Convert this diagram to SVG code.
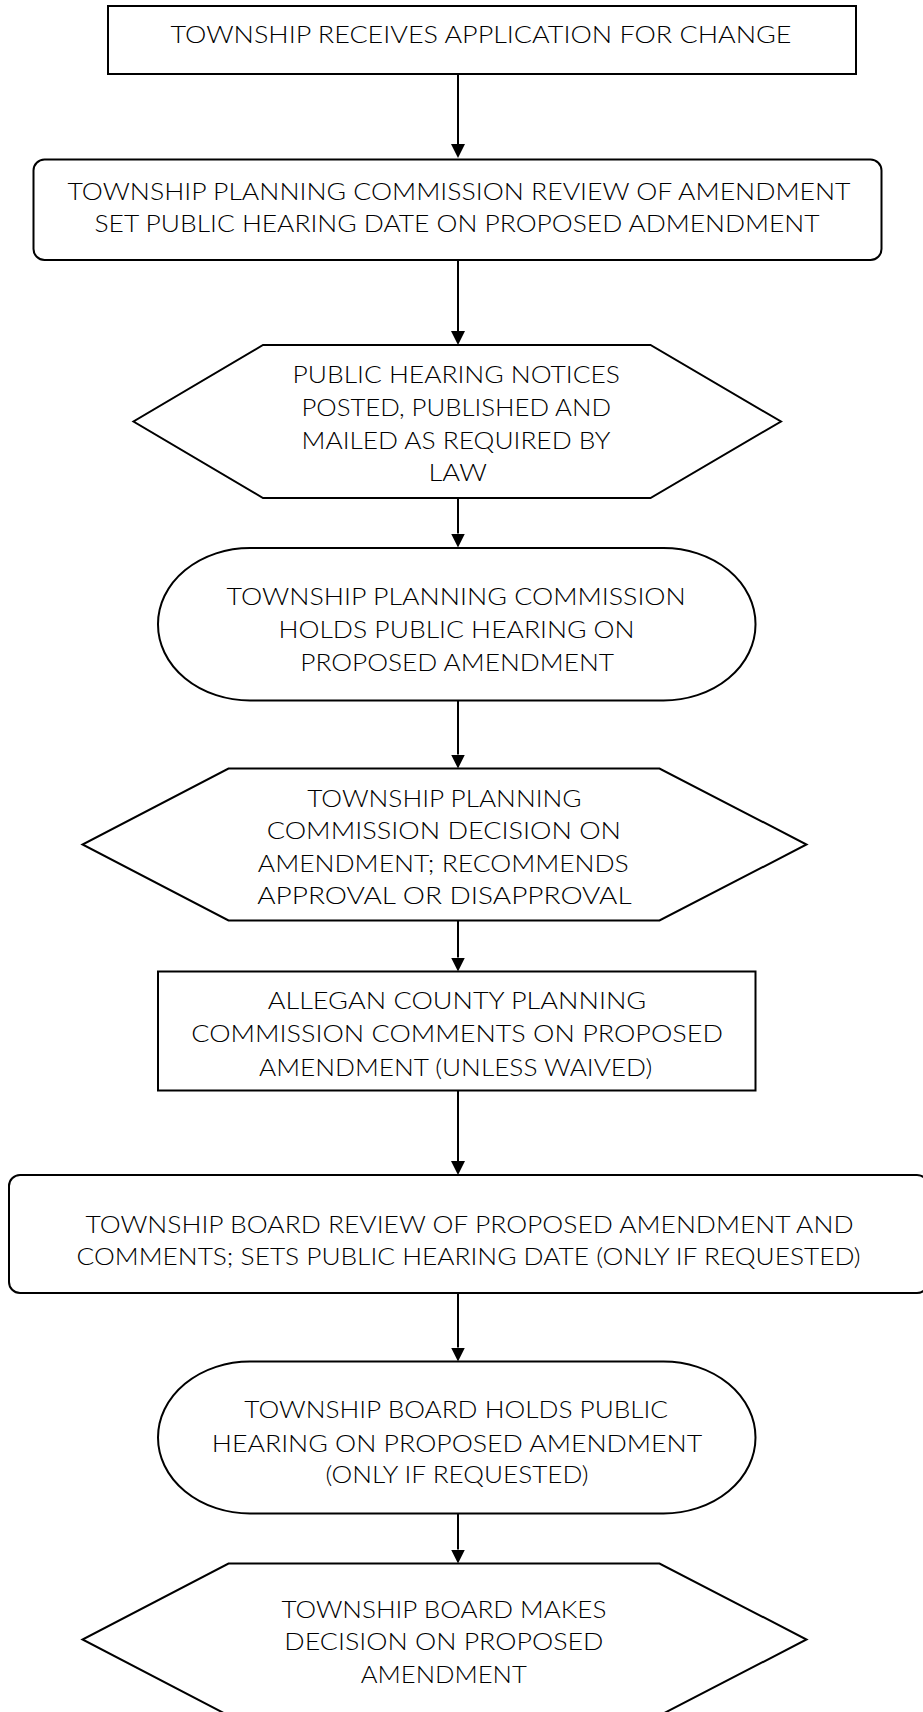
<svg xmlns="http://www.w3.org/2000/svg" width="923" height="1712" viewBox="0 0 923 1712">
  <style>
    .shape { fill: #ffffff; stroke: #000000; stroke-width: 2; }
    .edge { fill: none; stroke: #000000; stroke-width: 2; }
    .label { font-family: "Lato", "Liberation Sans", sans-serif; font-weight: 300; font-size: 24px; fill: #000000; text-anchor: middle; }
  </style>
  <defs>
    <marker id="arrow" markerUnits="userSpaceOnUse" markerWidth="16" markerHeight="16" viewBox="0 -8 16 16" refX="0" refY="0" orient="auto">
      <path d="M0,-7 L14,0 L0,7 Z" fill="#000000"/>
    </marker>
  </defs>
  <rect width="923" height="1712" fill="#ffffff"/>

  <!-- connectors: each line stops 14px short of the target so the arrowhead tip lands on the border -->
  <g id="connectors">
    <line class="edge" x1="458" y1="74" x2="458" y2="144" marker-end="url(#arrow)"/>
    <line class="edge" x1="458" y1="260" x2="458" y2="331" marker-end="url(#arrow)"/>
    <line class="edge" x1="458" y1="498" x2="458" y2="533.5" marker-end="url(#arrow)"/>
    <line class="edge" x1="458" y1="700.5" x2="458" y2="754.5" marker-end="url(#arrow)"/>
    <line class="edge" x1="458" y1="920.5" x2="458" y2="957.5" marker-end="url(#arrow)"/>
    <line class="edge" x1="458" y1="1090.5" x2="458" y2="1161" marker-end="url(#arrow)"/>
    <line class="edge" x1="458" y1="1293" x2="458" y2="1347.5" marker-end="url(#arrow)"/>
    <line class="edge" x1="458" y1="1513.5" x2="458" y2="1549.5" marker-end="url(#arrow)"/>
  </g>

  <g id="receive-application">
    <rect class="shape" x="108" y="6" width="748" height="68"/>
    <text class="label" x="481" y="43.3" textLength="621" lengthAdjust="spacingAndGlyphs">TOWNSHIP RECEIVES APPLICATION FOR CHANGE</text>
  </g>

  <g id="commission-review">
    <rect class="shape" x="33.5" y="159.5" width="848" height="100.5" rx="11" ry="11"/>
    <text class="label" x="459" y="200" textLength="783" lengthAdjust="spacingAndGlyphs">TOWNSHIP PLANNING COMMISSION REVIEW OF AMENDMENT</text>
    <text class="label" x="457" y="231.7" textLength="725" lengthAdjust="spacingAndGlyphs">SET PUBLIC HEARING DATE ON PROPOSED ADMENDMENT</text>
  </g>

  <g id="hearing-notices">
    <polygon class="shape" points="263,345 650.5,345 781,421.5 650.5,498 263,498 133.5,421.5"/>
    <text class="label" x="456.3" y="383.3" textLength="327.4" lengthAdjust="spacingAndGlyphs">PUBLIC HEARING NOTICES</text>
    <text class="label" x="456.2" y="416" textLength="309.6" lengthAdjust="spacingAndGlyphs">POSTED, PUBLISHED AND</text>
    <text class="label" x="456" y="448.7" textLength="309" lengthAdjust="spacingAndGlyphs">MAILED AS REQUIRED BY</text>
    <text class="label" x="457.7" y="481.3" textLength="58.3" lengthAdjust="spacingAndGlyphs">LAW</text>
  </g>

  <g id="commission-hearing">
    <rect class="shape" x="158" y="548" width="597.5" height="152.5" rx="92" ry="76"/>
    <text class="label" x="456.2" y="605" textLength="459.2" lengthAdjust="spacingAndGlyphs">TOWNSHIP PLANNING COMMISSION</text>
    <text class="label" x="456.5" y="638.3" textLength="356.2" lengthAdjust="spacingAndGlyphs">HOLDS PUBLIC HEARING ON</text>
    <text class="label" x="457.1" y="670.7" textLength="313.8" lengthAdjust="spacingAndGlyphs">PROPOSED AMENDMENT</text>
  </g>

  <g id="commission-decision">
    <polygon class="shape" points="228.5,768.5 659.5,768.5 806.5,844.5 659.5,920.5 228.5,920.5 82.5,844.5"/>
    <text class="label" x="444.4" y="806.7" textLength="274.3" lengthAdjust="spacingAndGlyphs">TOWNSHIP PLANNING</text>
    <text class="label" x="443.9" y="839.3" textLength="354.3" lengthAdjust="spacingAndGlyphs">COMMISSION DECISION ON</text>
    <text class="label" x="443.3" y="871.7" textLength="370.9" lengthAdjust="spacingAndGlyphs">AMENDMENT; RECOMMENDS</text>
    <text class="label" x="444.4" y="904" textLength="374.4" lengthAdjust="spacingAndGlyphs">APPROVAL OR DISAPPROVAL</text>
  </g>

  <g id="county-comments">
    <rect class="shape" x="158" y="971.5" width="597.5" height="119"/>
    <text class="label" x="457" y="1009.3" textLength="378.5" lengthAdjust="spacingAndGlyphs">ALLEGAN COUNTY PLANNING</text>
    <text class="label" x="457.1" y="1042.3" textLength="531.6" lengthAdjust="spacingAndGlyphs">COMMISSION COMMENTS ON PROPOSED</text>
    <text class="label" x="455.6" y="1075.7" textLength="393.2" lengthAdjust="spacingAndGlyphs">AMENDMENT (UNLESS WAIVED)</text>
  </g>

  <g id="board-review">
    <rect class="shape" x="9" y="1175" width="919" height="118" rx="11" ry="11"/>
    <text class="label" x="469.5" y="1232.7" textLength="768.1" lengthAdjust="spacingAndGlyphs">TOWNSHIP BOARD REVIEW OF PROPOSED AMENDMENT AND</text>
    <text class="label" x="468.6" y="1265" textLength="784.1" lengthAdjust="spacingAndGlyphs">COMMENTS; SETS PUBLIC HEARING DATE (ONLY IF REQUESTED)</text>
  </g>

  <g id="board-hearing">
    <rect class="shape" x="158" y="1361.5" width="597.5" height="152" rx="92" ry="76"/>
    <text class="label" x="456.2" y="1418.3" textLength="423.8" lengthAdjust="spacingAndGlyphs">TOWNSHIP BOARD HOLDS PUBLIC</text>
    <text class="label" x="457" y="1451.7" textLength="490.3" lengthAdjust="spacingAndGlyphs">HEARING ON PROPOSED AMENDMENT</text>
    <text class="label" x="457" y="1483.3" textLength="263.1" lengthAdjust="spacingAndGlyphs">(ONLY IF REQUESTED)</text>
  </g>

  <g id="board-decision">
    <polygon class="shape" points="228.5,1563.5 659.5,1563.5 806.5,1639.5 659.5,1715.5 228.5,1715.5 82.5,1639.5"/>
    <text class="label" x="443.9" y="1618.3" textLength="324.9" lengthAdjust="spacingAndGlyphs">TOWNSHIP BOARD MAKES</text>
    <text class="label" x="443.9" y="1650" textLength="319.1" lengthAdjust="spacingAndGlyphs">DECISION ON PROPOSED</text>
    <text class="label" x="443.8" y="1682.7" textLength="166" lengthAdjust="spacingAndGlyphs">AMENDMENT</text>
  </g>
</svg>
